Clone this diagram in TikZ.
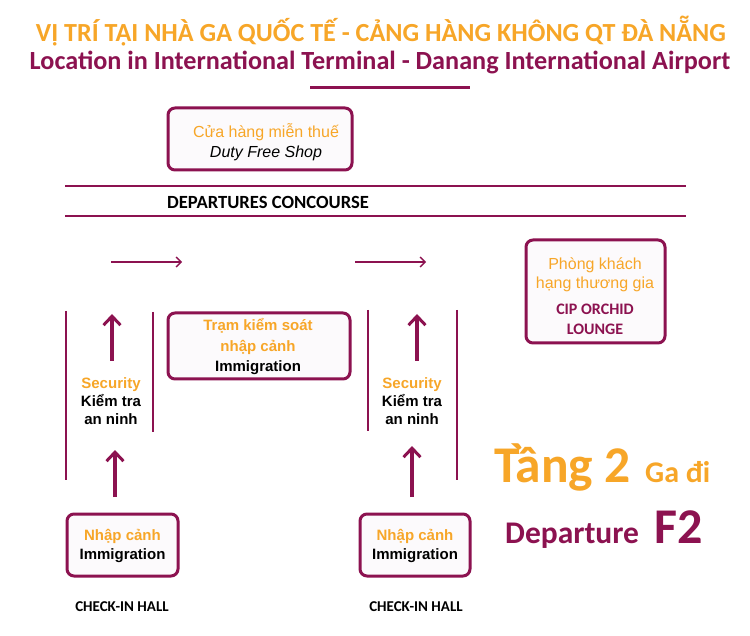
\documentclass[tikz,border=0pt]{standalone}
\usepackage{fontspec}
\setmainfont{Liberation Sans}
\newfontfamily\calfont{Carlito}
\usetikzlibrary{arrows.meta}
\definecolor{mar}{RGB}{140,18,80}
\definecolor{org}{RGB}{247,166,40}
\definecolor{boxfill}{RGB}{252,250,252}
\tikzset{
  frame/.style={draw=mar, line width=3pt, rounded corners=7pt, fill=boxfill, inner sep=0pt},
  wall/.style={draw=mar, line width=2.2pt},
  uparrow/.style={draw=mar, line width=3.2pt, -{Straight Barb[length=9pt,width=17pt,line width=3pt]}},
  rarrow/.style={draw=mar, line width=1.6pt, -{Straight Barb[length=5pt,width=10pt,line width=1.4pt]}},
  txt/.style={inner sep=0pt, align=center},
}
\begin{document}
\begin{tikzpicture}[x=1pt,y=-1pt]
\useasboundingbox[fill=white] (0,0) rectangle (750,636);
% titles
\node[txt, text=org, font=\calfont\bfseries\fontsize{26.1}{28}\selectfont] (t1) at (381,31.5) {VỊ TRÍ TẠI NHÀ GA QUỐC TẾ - CẢNG HÀNG KHÔNG QT ĐÀ NẴNG};
\node[txt, text=mar, font=\calfont\bfseries\fontsize{26.2}{28}\selectfont] (t2) at (380,63) {Location in International Terminal - Danang International Airport};
\coordinate (ul1) at (310,88); \coordinate (ul2) at (470,88);
\draw[draw=mar, line width=3pt] (ul1) -- (ul2);
% duty free
\node[frame, minimum width=184pt, minimum height=62pt] (duty) at (260,139) {};
\node[txt, font=\fontsize{16}{20}\selectfont] (dutyt) at (266,142.5) {\textcolor{org}{Cửa hàng miễn thuế}\\[0pt]\textit{Duty Free Shop}};
% concourse
\coordinate (a1) at (65,186); \coordinate (a2) at (686,186);
\coordinate (b1) at (65,216); \coordinate (b2) at (686,216);
\draw[wall] (a1) -- (a2);
\draw[wall] (b1) -- (b2);
\node[txt, font=\calfont\bfseries\fontsize{18.6}{20}\selectfont] (conc) at (268,202) {DEPARTURES CONCOURSE};
% horizontal arrows
\coordinate (h1) at (111,262); \coordinate (h2) at (182,262);
\coordinate (h3) at (355,262); \coordinate (h4) at (426,262);
\draw[rarrow] (h1) -- (h2);
\draw[rarrow] (h3) -- (h4);
% walls
\coordinate (w1a) at (66,311); \coordinate (w1b) at (66,480);
\coordinate (w2a) at (153,312); \coordinate (w2b) at (153,432);
\coordinate (w3a) at (368,310); \coordinate (w3b) at (368,431);
\coordinate (w4a) at (457,310); \coordinate (w4b) at (457,480);
\draw[wall] (w1a) -- (w1b);
\draw[wall] (w2a) -- (w2b);
\draw[wall] (w3a) -- (w3b);
\draw[wall] (w4a) -- (w4b);
% immigration box
\node[frame, minimum width=182pt, minimum height=66pt] (immig) at (259,346) {};
\node[txt, font=\bfseries\fontsize{15}{20.5}\selectfont] (immigt) at (258,347) {\textcolor{org}{Trạm kiểm soát}\\\textcolor{org}{nhập cảnh}\\Immigration};
% security
\node[txt, font=\bfseries\fontsize{15}{18}\selectfont] (sec1) at (111,401) {\textcolor{org}{Security}\\Kiểm tra\\an ninh};
\node[txt, font=\bfseries\fontsize{15}{18}\selectfont] (sec2) at (412,401) {\textcolor{org}{Security}\\Kiểm tra\\an ninh};
\coordinate (u1a) at (112,361); \coordinate (u1b) at (112,314);
\coordinate (u2a) at (115,497); \coordinate (u2b) at (115,450);
\coordinate (u3a) at (417,361); \coordinate (u3b) at (417,314);
\coordinate (u4a) at (412,497); \coordinate (u4b) at (412,446);
\draw[uparrow] (u1a) -- (u1b);
\draw[uparrow] (u2a) -- (u2b);
\draw[uparrow] (u3a) -- (u3b);
\draw[uparrow] (u4a) -- (u4b);
% lounge
\node[frame, minimum width=139pt, minimum height=103pt] (lounge) at (595.5,291.5) {};
\node[txt, font=\fontsize{16}{19}\selectfont, text=org] (lounget) at (595,275) {Phòng khách\\hạng thương gia};
\node[txt, font=\calfont\bfseries\fontsize{16}{20}\selectfont, text=mar] (lounge2) at (595,319) {CIP ORCHID\\LOUNGE};
% floor label
\node[txt, anchor=base west, text=org, font=\calfont\bfseries\fontsize{51.5}{54}\selectfont] (tang) at (494,482) {Tầng 2};
\node[txt, anchor=base west, text=org, font=\calfont\bfseries\fontsize{30}{32}\selectfont] (gadi) at (645,482) {Ga đi};
\node[txt, anchor=base west, text=mar, font=\calfont\bfseries\fontsize{31.5}{34}\selectfont] (dep) at (505,543) {Departure};
\node[txt, anchor=base west, text=mar, font=\calfont\bfseries\fontsize{50}{52}\selectfont] (f2) at (654,543) {F2};
% bottom boxes
\node[frame, minimum width=111pt, minimum height=62pt] (nc1) at (122.5,545) {};
\node[txt, font=\bfseries\fontsize{15}{19}\selectfont] (nc1t) at (122.5,546) {\textcolor{org}{Nhập cảnh}\\Immigration};
\node[frame, minimum width=110pt, minimum height=62pt] (nc2) at (415,545) {};
\node[txt, font=\bfseries\fontsize{15}{19}\selectfont] (nc2t) at (415,546) {\textcolor{org}{Nhập cảnh}\\Immigration};
\node[txt, font=\calfont\bfseries\fontsize{15}{17}\selectfont] (ch1) at (122,607) {CHECK-IN HALL};
\node[txt, font=\calfont\bfseries\fontsize{15}{17}\selectfont] (ch2) at (416,607) {CHECK-IN HALL};
\end{tikzpicture}
\end{document}
